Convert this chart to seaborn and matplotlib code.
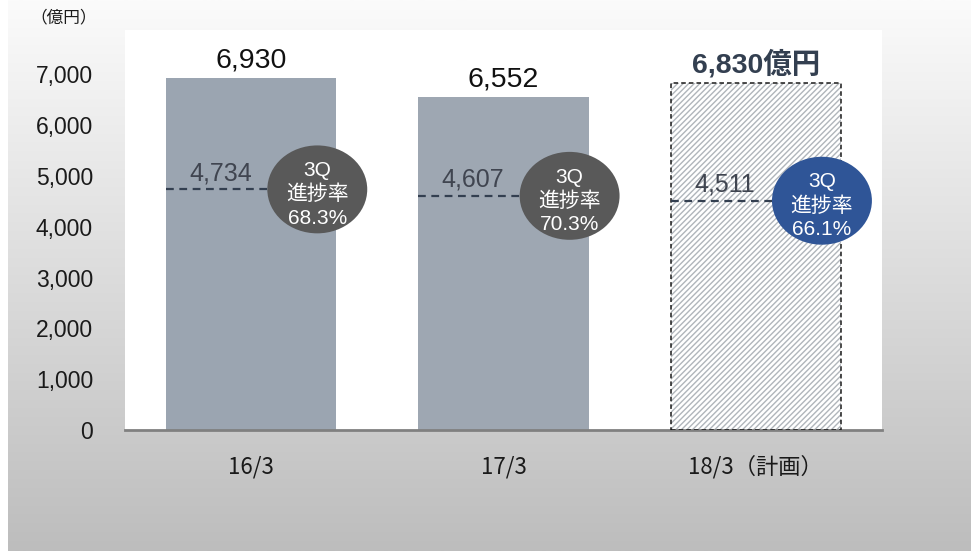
import numpy as np
import pandas as pd
import matplotlib as mpl
mpl.use("Agg")
from matplotlib import pyplot as plt
from matplotlib.patches import Ellipse
import seaborn as sns

# data
periods = ["16/3", "17/3", "18/3（計画）"]
annual = [6930, 6552, 6830]
q3_actual = [4734, 4607, 4511]
progress = ["68.3%", "70.3%", "66.1%"]
top_labels = ["6,930", "6,552", "6,830億円"]
q3_labels = ["4,734", "4,607", "4,511"]
y_ticks = [0, 1000, 2000, 3000, 4000, 5000, 6000, 7000]

bar_colors = ["#9ba5b1", "#9ea7b2", "#ffffff"]
bubble_colors = ["#595959", "#595959", "#2f5597"]

sns.set_style("white")
plt.rcParams["font.family"] = ["Liberation Sans", "Noto Sans CJK JP", "DejaVu Sans"]

df = pd.DataFrame({"period": periods, "annual": annual})

fig = plt.figure(figsize=(9.71, 5.53), dpi=100)
fig.patch.set_facecolor("white")

# gradient panel behind the chart
bg = fig.add_axes([8 / 971, 0.004, 1 - 8 / 971, 0.996], zorder=-10)
grad = np.linspace(0, 1, 256).reshape(-1, 1)
cmap = mpl.colors.LinearSegmentedColormap.from_list("bg", ["#fbfbfb", "#bdbdbd"])
bg.imshow(grad, aspect="auto", cmap=cmap, extent=[0, 1, 0, 1], origin="upper")
bg.axis("off")

ax = fig.add_axes([125 / 971, 123 / 553, 757 / 971, 400 / 553])
ax.set_facecolor("white")
bar_w = 0.675
sns.barplot(data=df, x="period", y="annual", hue="period", palette=bar_colors,
            legend=False, width=bar_w, saturation=1, ax=ax, linewidth=0)

# plan bar: hatched fill with dashed outline
plan = ax.patches[2]
plan.set_hatch("//////")
plan.set_edgecolor("#b0b5bb")
plan.set_linewidth(0)
ax.bar(2, annual[2], width=bar_w, fill=False, edgecolor="#1a1a1a",
       linestyle=(0, (3, 2)), linewidth=1.1, zorder=3)

ax.set_xlim(-0.5, 2.5)
ax.set_ylim(0, 7870)
ax.set_yticks(y_ticks)
ax.set_yticklabels([f"{v:,}" for v in y_ticks], fontsize=16.5, color="#1a1a1a")
ax.tick_params(axis="y", length=0, pad=23)
ax.tick_params(axis="x", length=0, pad=18, labelsize=16, labelcolor="#1a1a1a")
for lab in ax.get_xticklabels():
    lab.set_family(["Noto Sans CJK JP"])
ax.set_xlabel("")
ax.set_ylabel("")
for s in ["top", "right", "left"]:
    ax.spines[s].set_visible(False)
ax.spines["bottom"].set_color("#808080")
ax.spines["bottom"].set_linewidth(2)

for i in range(3):
    ax.annotate(top_labels[i], (i, annual[i]), xytext=(0, 3), textcoords="offset points",
                ha="center", va="bottom", fontsize=20.5,
                fontweight="bold" if i == 2 else "normal",
                color="#333f50" if i == 2 else "#111111")
    # 3Q dashed level
    cx = i + 0.262
    ax.plot([i - bar_w / 2, cx], [q3_actual[i], q3_actual[i]], color="#333f50",
            linestyle=(0, (3.5, 2.5)), linewidth=1.6, zorder=4)
    ax.annotate(q3_labels[i], (i - 0.122, q3_actual[i]), xytext=(0, 3),
                textcoords="offset points", ha="center", va="bottom",
                fontsize=18, color="#404550", zorder=5)
    ax.add_patch(Ellipse((cx, q3_actual[i]), 0.396, 1730, facecolor=bubble_colors[i],
                         edgecolor="none", zorder=6))
    ax.text(cx, q3_actual[i] - 100, "3Q\n進捗率\n" + progress[i], ha="center", va="center",
            fontsize=15, color="white", linespacing=1.3, zorder=7)

fig.text(30 / 971, 1 - 18 / 553, "（億円）", ha="left", va="center", fontsize=12,
         color="#1a1a1a", family=["Noto Sans CJK JP"])

fig.savefig("out.png", dpi=100)
